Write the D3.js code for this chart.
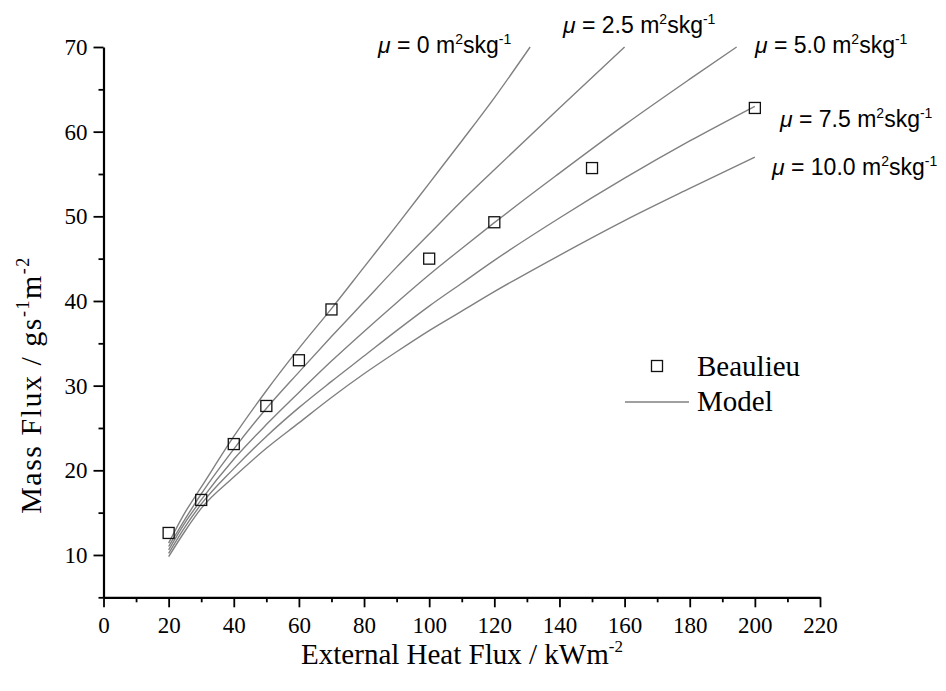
<!DOCTYPE html>
<html>
<head>
<meta charset="utf-8">
<script src="https://cdn.jsdelivr.net/npm/d3@7"></script>
<style>
  body { margin: 0; background: #fff; }
  svg { display: block; }
  .tick text { font-family: "Liberation Serif", "Times New Roman", serif; }
</style>
</head>
<body>
<div id="chart"></div>
<script>
const width = 946, height = 691;

// Beaulieu experimental points
const heatFlux = [20, 30, 40, 50, 60, 70, 100, 120, 150, 200];
const beaulieu = [12.6, 16.5, 23.1, 27.6, 33.0, 39.0, 45.0, 49.3, 55.7, 62.8];

// model curves, one per mu value
const muLabels = ["0", "2.5", "5.0", "7.5", "10.0"];
const modelQ0 = [20, 25, 30, 40, 50, 60, 70, 80, 90, 100, 110, 120, 131];
const modelM0 = [11.4, 15.0, 18.0, 24.0, 29.4, 34.4, 39.1, 44.0, 48.9, 53.9, 58.9, 64.0, 70.0];
const modelQ25 = [20, 25, 30, 40, 50, 60, 70, 80, 90, 100, 110, 120, 140, 160];
const modelM25 = [11.0, 14.2, 17.2, 22.5, 27.3, 31.6, 35.8, 39.9, 44.0, 47.9, 51.8, 55.5, 62.8, 70.0];
const modelQ50 = [20, 25, 30, 40, 50, 60, 70, 80, 90, 100, 110, 120, 140, 160, 180, 194.4];
const modelM50 = [10.6, 13.8, 16.5, 21.3, 25.4, 29.2, 32.9, 36.4, 39.8, 43.1, 46.2, 49.25, 55.1, 60.8, 66.2, 70.0];
const modelQ75 = [20, 25, 30, 40, 50, 60, 70, 80, 90, 100, 110, 120, 140, 160, 180, 200];
const modelM75 = [10.2, 13.3, 16.0, 20.2, 24.0, 27.4, 30.5, 33.5, 36.5, 39.4, 42.1, 44.8, 49.8, 54.5, 58.9, 63.0];
const modelQ100 = [20, 25, 30, 40, 50, 60, 70, 80, 90, 100, 110, 120, 140, 160, 180, 200];
const modelM100 = [9.8, 12.8, 15.5, 19.2, 22.6, 25.6, 28.6, 31.4, 34.0, 36.5, 38.8, 41.1, 45.4, 49.5, 53.3, 57.0];

const xTicks = [0, 20, 40, 60, 80, 100, 120, 140, 160, 180, 200, 220];
const yTicks = [10, 20, 30, 40, 50, 60, 70];

const models = [
  [modelQ0, modelM0], [modelQ25, modelM25], [modelQ50, modelM50],
  [modelQ75, modelM75], [modelQ100, modelM100]
].map(([q, m]) => q.map((d, i) => [d, m[i]]));

// where the curve labels sit (pixels)
const labelPos = [[378, 53], [563, 33], [755, 53], [780, 127], [772, 175]];

const svg = d3.select("#chart").append("svg")
    .attr("width", width)
    .attr("height", height);

const x = d3.scaleLinear().domain([0, 220]).range([103.5, 820]);
const y = d3.scaleLinear().domain([5, 70]).range([597.3, 47]);

// axes with major + minor ticks
const xAxis = svg.append("g").attr("transform", `translate(0,${y(5)})`);
xAxis.call(d3.axisBottom(x).tickValues(d3.range(10, 220, 20)).tickSize(5).tickFormat(""));
xAxis.call(g => g.select(".domain").remove());
const xMajor = svg.append("g").attr("transform", `translate(0,${y(5)})`)
    .call(d3.axisBottom(x).tickValues(xTicks).tickSize(10).tickSizeOuter(0).tickPadding(9));

const yAxis = svg.append("g").attr("transform", `translate(${x(0)},0)`);
yAxis.call(d3.axisLeft(y).tickValues(d3.range(5, 70, 10)).tickSize(5).tickFormat(""));
yAxis.call(g => g.select(".domain").remove());
const yMajor = svg.append("g").attr("transform", `translate(${x(0)},0)`)
    .call(d3.axisLeft(y).tickValues(yTicks).tickSize(10).tickSizeOuter(0).tickPadding(6));

svg.selectAll(".domain").attr("stroke", "#000").attr("stroke-width", 2.2);
svg.selectAll(".tick line").attr("stroke", "#000").attr("stroke-width", 1.8);
svg.selectAll(".tick text").attr("font-size", 23).attr("fill", "#000");

// model curves
const line = d3.line()
    .x(d => x(d[0]))
    .y(d => y(d[1]))
    .curve(d3.curveMonotoneX);

svg.append("g").selectAll("path")
    .data(models)
    .enter().append("path")
    .attr("d", line)
    .attr("fill", "none")
    .attr("stroke", "#808080")
    .attr("stroke-width", 1.4);

// experimental squares
svg.append("g").selectAll("rect")
    .data(heatFlux)
    .enter().append("rect")
    .attr("x", d => x(d) - 5.5)
    .attr("y", (d, i) => y(beaulieu[i]) - 5.5)
    .attr("width", 11)
    .attr("height", 11)
    .attr("fill", "none")
    .attr("stroke", "#111")
    .attr("stroke-width", 1.3);

// curve labels
const labels = svg.append("g")
    .attr("font-family", "'Liberation Sans', Arial, sans-serif")
    .attr("font-size", 23)
    .attr("fill", "#000");

muLabels.forEach((mu, i) => {
  const t = labels.append("text")
      .attr("x", labelPos[i][0])
      .attr("y", labelPos[i][1]);
  t.append("tspan").attr("font-style", "italic").text("\u03bc");
  t.append("tspan").text(` = ${mu} m`);
  t.append("tspan").attr("font-size", 14).attr("dy", -9).text("2");
  t.append("tspan").attr("dy", 9).text("skg");
  t.append("tspan").attr("font-size", 14).attr("dy", -9).text("-1");
});

// legend
const legend = svg.append("g")
    .attr("font-family", "'Liberation Serif', 'Times New Roman', serif")
    .attr("font-size", 29);
legend.append("rect")
    .attr("x", 651.5).attr("y", 360.5)
    .attr("width", 11).attr("height", 11)
    .attr("fill", "none").attr("stroke", "#111").attr("stroke-width", 1.3);
legend.append("text").attr("x", 697).attr("y", 376).text("Beaulieu");
legend.append("line")
    .attr("x1", 625).attr("x2", 689).attr("y1", 402).attr("y2", 402)
    .attr("stroke", "#808080").attr("stroke-width", 1.4);
legend.append("text").attr("x", 697).attr("y", 411).text("Model");

// axis titles
const xTitle = svg.append("text")
    .attr("x", 462).attr("y", 664)
    .attr("text-anchor", "middle")
    .attr("font-family", "'Liberation Serif', 'Times New Roman', serif")
    .attr("font-size", 29);
xTitle.append("tspan").text("External Heat Flux / kWm");
xTitle.append("tspan").attr("font-size", 17).attr("dy", -12).text("-2");

const yTitle = svg.append("text")
    .attr("transform", "translate(41,385) rotate(-90)")
    .attr("text-anchor", "middle")
    .attr("font-family", "'Liberation Serif', 'Times New Roman', serif")
    .attr("font-size", 30)
    .attr("letter-spacing", 1.5);
yTitle.append("tspan").text("Mass Flux / gs");
yTitle.append("tspan").attr("font-size", 18).attr("dy", -12).text("-1");
yTitle.append("tspan").attr("dy", 12).text("m");
yTitle.append("tspan").attr("font-size", 18).attr("dy", -12).text("-2");
</script>
</body>
</html>
